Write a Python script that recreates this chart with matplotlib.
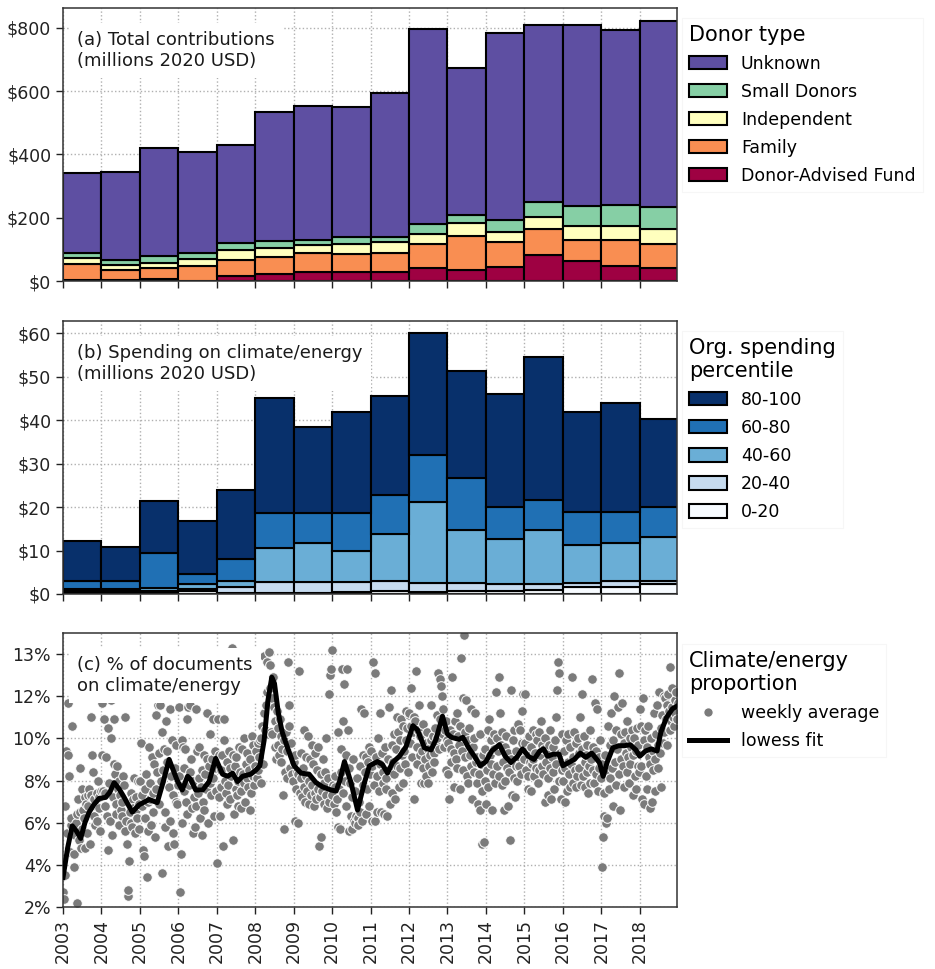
import numpy as np
import matplotlib
matplotlib.use("Agg")
import matplotlib.pyplot as plt
from matplotlib.lines import Line2D
from matplotlib.patches import Patch

years = list(range(2003, 2019))

# (a) total contributions, millions 2020 USD
donor_labels = ["Donor-Advised Fund", "Family", "Independent", "Small Donors", "Unknown"]
daf = [2, 2, 7, 1, 16, 23, 29, 29, 29, 42, 34, 45, 82, 64, 47, 42]
family = [51, 32, 33, 47, 50, 53, 59, 56, 59, 75, 107, 77, 82, 67, 84, 75]
independent = [21, 16, 18, 23, 33, 27, 26, 32, 34, 31, 41, 34, 37, 43, 43, 49]
small_donors = [13, 16, 22, 19, 21, 22, 15, 21, 18, 32, 27, 38, 50, 62, 66, 67]
unknown = [254, 278, 339, 318, 309, 408, 424, 413, 453, 617, 466, 590, 558, 572, 555, 588]

# (b) spending on climate/energy by org. spending percentile
pctl_labels = ["0-20", "20-40", "40-60", "60-80", "80-100"]
p0_20 = [0.3, 0.3, 0.4, 0.6, 0.3, 0.3, 0.3, 0.4, 0.6, 0.4, 0.6, 0.8, 1.0, 1.5, 1.7, 2.2]
p20_40 = [0.3, 0.3, 0.4, 0.6, 1.2, 2.55, 2.4, 2.3, 2.5, 2.1, 1.9, 1.4, 1.2, 1.0, 1.2, 0.7]
p40_60 = [0.6, 0.6, 0.6, 1.0, 1.6, 7.75, 9.1, 7.3, 10.8, 18.6, 12.3, 10.5, 12.5, 8.7, 8.8, 10.1]
p60_80 = [1.7, 1.7, 8.1, 2.4, 5.0, 8.1, 6.9, 8.7, 8.8, 10.9, 11.8, 7.2, 6.9, 7.7, 7.2, 7.1]
p80_100 = [9.4, 7.9, 11.9, 12.2, 15.8, 26.4, 19.7, 23.1, 22.9, 28.0, 24.7, 26.0, 33.0, 22.9, 25.0, 20.2]

# (c) weekly share of documents on climate/energy (%)
wk_2003 = [2.7, 2.4, 3.5, 6.8, 9.4, 5.5, 11.7, 9.2, 8.2, 4.6, 5.9, 6.2, 10.6, 5.6, 4.5, 3.9, 5.4, 6.0, 2.2, 6.4,
           7.1, 5.2, 8.6, 6.5, 4.8, 5.7, 7.6, 6.6, 6.2, 7.2, 4.8, 6.9, 5.5, 7.3, 6.8, 7.6, 5.0, 7.3, 11.0, 9.2,
           8.4, 6.3, 7.1, 5.9, 6.8, 7.4, 6.1, 8.0, 6.7, 7.2, 5.6, 7.5]
wk_2004 = [11.7, 9.2, 7.5, 10.9, 6.8, 7.4, 9.1, 6.3, 4.7, 10.5, 7.9, 6.1, 10.0, 11.8, 5.4, 7.2, 10.9, 8.8, 8.3, 6.4,
           6.9, 8.7, 7.6, 8.0, 5.9, 7.3, 6.6, 7.0, 6.3, 8.2, 7.8, 5.6, 11.0, 6.1, 5.0, 2.5, 2.8, 4.2, 6.5, 7.4,
           6.0, 5.8, 7.1, 6.7, 8.1, 5.5, 6.6, 7.2, 6.2, 8.0, 5.7, 6.9]
wk_2005 = [8.0, 9.8, 6.8, 7.3, 4.7, 4.4, 7.6, 6.2, 8.3, 3.4, 7.0, 5.6, 9.6, 7.1, 7.9, 5.9, 9.1, 6.5, 7.4, 8.8,
           5.3, 11.1, 7.6, 8.4, 11.6, 6.9, 9.3, 11.6, 8.0, 3.6, 10.3, 8.5, 9.5, 6.5, 5.8, 10.8, 8.9, 9.4, 4.9, 7.7,
           11.4, 6.1, 8.2, 9.9, 5.5, 7.3, 5.0, 8.6, 7.0, 9.7, 6.9, 7.8]
wk_2006 = [11.5, 8.2, 2.7, 4.5, 6.0, 9.9, 9.6, 7.5, 8.6, 9.5, 7.0, 10.9, 6.4, 11.5, 7.8, 8.4, 11.6, 9.0, 6.7, 5.5,
           8.0, 7.2, 5.8, 11.4, 6.8, 9.4, 7.4, 8.1, 9.6, 6.2, 7.7, 5.4, 8.5, 7.0, 6.6, 9.2, 8.3, 7.6, 11.2, 9.0,
           6.0, 8.7, 7.9, 10.2, 7.3, 9.0, 10.9, 8.1, 6.3, 9.4, 7.5, 8.6]
wk_2007 = [4.1, 10.9, 9.2, 7.2, 6.3, 8.5, 7.7, 9.2, 4.9, 10.9, 9.9, 8.0, 7.4, 8.9, 6.9, 7.8, 9.4, 7.1, 8.6, 8.2,
           14.3, 9.2, 5.2, 6.4, 8.7, 7.6, 9.1, 7.3, 8.0, 6.8, 9.6, 8.4, 7.5, 6.7, 9.5, 8.3, 7.9, 10.0, 7.0, 8.8,
           8.1, 9.3, 7.7, 8.5, 6.6, 9.0, 7.4, 10.1, 8.2, 9.7, 7.8, 8.4]
wk_2008 = [8.7, 9.4, 8.1, 9.8, 8.5, 9.1, 9.9, 7.9, 10.0, 10.6, 8.8, 11.2, 13.9, 10.4, 11.6, 13.6, 12.2, 10.2, 14.1, 12.4,
           13.5, 10.3, 11.9, 10.2, 12.9, 11.5, 9.6, 10.8, 9.0, 11.3, 10.5, 9.7, 9.2, 10.9, 8.9, 10.1, 9.5, 7.3, 9.9, 5.7,
           8.4, 10.3, 9.4, 8.1, 13.6, 11.6, 10.6, 8.6, 9.8, 8.3, 9.2, 8.0]
wk_2009 = [8.9, 6.1, 9.2, 7.6, 8.4, 6.0, 8.3, 13.2, 7.4, 8.1, 9.3, 7.2, 8.6, 7.7, 10.4, 7.0, 8.2, 9.1, 7.5, 10.1,
           6.9, 8.0, 9.0, 7.3, 9.7, 7.8, 8.8, 6.8, 7.4, 9.3, 7.1, 8.5, 7.6, 9.6, 4.9, 7.2, 8.3, 5.3, 7.5, 9.0,
           6.9, 7.9, 8.4, 10.0, 7.3, 6.7, 8.1, 7.0, 12.1, 13.0, 13.3, 14.2]
wk_2010 = [7.3, 7.8, 6.9, 7.7, 8.2, 6.5, 7.1, 10.3, 5.8, 7.6, 5.7, 9.5, 8.4, 13.3, 7.4, 10.8, 12.6, 8.0, 9.2, 6.8,
           13.3, 10.4, 8.6, 5.6, 7.9, 6.3, 5.7, 7.2, 9.0, 6.1, 6.0, 7.5, 6.3, 8.1, 6.2, 5.9, 7.0, 8.7, 6.5, 11.4,
           6.1, 7.8, 9.2, 11.2, 8.4, 6.4, 9.1, 7.6, 8.9, 6.8, 9.6, 8.3]
wk_2011 = [9.4, 6.1, 8.7, 13.6, 7.8, 6.1, 13.1, 9.1, 8.2, 6.5, 10.0, 7.5, 11.2, 8.8, 6.5, 9.3, 7.9, 8.4, 6.4, 9.6,
           8.1, 7.6, 6.3, 9.0, 11.5, 8.5, 6.9, 12.3, 9.7, 7.4, 8.9, 10.2, 8.3, 7.1, 9.5, 11.0, 8.7, 10.3, 7.7, 9.9,
           8.6, 10.9, 9.2, 7.9, 10.6, 9.4, 8.8, 11.3, 9.9, 10.5, 8.4, 11.1]
wk_2012 = [11.2, 9.8, 10.6, 12.4, 9.1, 10.3, 7.1, 11.0, 10.8, 13.2, 9.6, 8.8, 10.4, 11.6, 9.2, 10.1, 7.9, 9.4, 8.6, 10.7,
           7.9, 9.0, 8.2, 9.8, 10.3, 9.5, 7.9, 8.7, 9.2, 11.6, 9.9, 8.4, 10.1, 9.3, 8.9, 10.5, 9.7, 11.1, 10.0, 13.1,
           9.5, 12.8, 10.9, 12.5, 12.0, 10.2, 11.4, 9.6, 10.4, 8.5, 10.8, 9.9]
wk_2013 = [8.3, 9.8, 7.1, 10.4, 9.5, 8.9, 12.9, 10.2, 9.3, 7.7, 10.8, 9.0, 11.2, 8.6, 10.1, 9.7, 7.6, 10.6, 13.8, 9.4,
           11.9, 8.5, 14.9, 10.3, 9.1, 11.8, 8.2, 9.9, 7.9, 10.5, 9.2, 8.7, 11.4, 7.1, 9.6, 8.4, 10.0, 11.2, 8.9, 7.9,
           9.1, 6.9, 8.3, 10.2, 6.6, 8.8, 7.5, 5.0, 9.2, 5.1, 8.0, 9.5]
wk_2014 = [6.9, 8.5, 10.4, 7.7, 10.9, 9.2, 8.8, 9.9, 6.6, 8.3, 10.2, 9.5, 7.9, 12.2, 8.7, 10.0, 9.4, 12.9, 8.2, 11.2,
           9.7, 7.8, 10.3, 8.9, 6.6, 9.6, 8.0, 10.1, 8.6, 9.3, 6.8, 8.4, 5.2, 9.0, 12.3, 7.3, 9.9, 8.1, 10.4, 7.2,
           9.4, 8.7, 8.0, 10.7, 9.1, 8.7, 10.4, 8.3, 11.3, 9.8, 12.1, 9.0]
wk_2015 = [9.8, 12.1, 8.5, 9.4, 8.2, 7.6, 10.1, 8.9, 9.6, 7.5, 8.8, 10.4, 9.0, 8.2, 9.3, 10.2, 8.6, 9.9, 7.9, 8.5,
           10.3, 9.2, 10.8, 8.7, 9.7, 8.3, 9.5, 10.0, 7.0, 8.9, 9.4, 7.3, 8.1, 9.7, 8.6, 10.4, 7.1, 9.1, 8.4, 9.6,
           7.6, 9.9, 11.0, 8.8, 12.3, 13.6, 13.1, 8.0, 9.3, 7.1, 10.2, 8.5]
wk_2016 = [8.0, 9.4, 7.0, 8.6, 9.9, 7.5, 8.9, 10.2, 8.3, 7.7, 9.6, 8.8, 12.9, 7.9, 9.1, 10.3, 8.5, 9.8, 7.7, 8.2,
           10.0, 9.3, 8.6, 11.0, 7.8, 12.1, 9.5, 8.2, 10.1, 8.9, 7.7, 9.2, 8.4, 9.7, 7.4, 8.7, 10.4, 7.9, 9.0, 12.8,
           8.5, 9.6, 7.9, 11.7, 8.3, 9.4, 11.4, 7.5, 9.1, 8.6, 9.9, 8.1]
wk_2017 = [3.9, 8.8, 5.3, 7.4, 6.3, 9.2, 6.0, 8.5, 6.2, 10.6, 7.6, 8.1, 9.7, 11.2, 8.6, 6.8, 9.9, 12.0, 8.9, 10.4,
           7.8, 9.5, 11.5, 8.3, 13.1, 6.6, 10.2, 9.0, 11.7, 8.7, 9.8, 7.7, 10.3, 9.3, 8.4, 10.8, 9.1, 7.9, 10.0, 8.8,
           9.6, 10.4, 7.3, 9.2, 10.0, 8.2, 9.4, 7.6, 10.5, 8.7, 9.7, 8.4]
wk_2018 = [11.4, 8.7, 10.6, 7.1, 11.9, 9.9, 6.9, 10.4, 8.2, 9.6, 7.6, 10.6, 9.1, 6.7, 8.8, 10.0, 7.0, 9.4, 8.5, 11.2,
           9.0, 7.5, 10.2, 11.6, 8.6, 9.7, 12.2, 9.3, 7.7, 10.5, 11.1, 9.8, 12.0, 10.3, 11.9, 10.9, 11.6, 9.7, 12.1, 11.3,
           10.4, 13.4, 10.8, 11.5, 12.4, 11.0, 10.6, 11.8, 11.2, 12.2, 10.9, 11.7]

lowess_year = [2003.0, 2003.12, 2003.24, 2003.35, 2003.46, 2003.57, 2003.68, 2003.8, 2003.94, 2004.11,
               2004.22, 2004.33, 2004.46, 2004.59, 2004.8, 2004.98, 2005.24, 2005.45, 2005.6, 2005.76,
               2005.97, 2006.1, 2006.24, 2006.32, 2006.45, 2006.63, 2006.8, 2006.97, 2007.15, 2007.28,
               2007.41, 2007.54, 2007.67, 2007.88, 2008.02, 2008.12, 2008.23, 2008.33, 2008.43, 2008.5,
               2008.6, 2008.7, 2008.85, 2009.01, 2009.19, 2009.4, 2009.58, 2009.75, 2009.97, 2010.1,
               2010.2, 2010.32, 2010.49, 2010.66, 2010.84, 2010.97, 2011.18, 2011.31, 2011.44, 2011.57,
               2011.75, 2011.92, 2012.1, 2012.22, 2012.4, 2012.57, 2012.7, 2012.87, 2013.0, 2013.1,
               2013.3, 2013.4, 2013.55, 2013.7, 2013.85, 2014.0, 2014.15, 2014.35, 2014.5, 2014.65,
               2014.8, 2014.95, 2015.1, 2015.25, 2015.4, 2015.5, 2015.6, 2015.75, 2015.9, 2016.0,
               2016.15, 2016.3, 2016.45, 2016.6, 2016.75, 2016.95, 2017.05, 2017.15, 2017.3, 2017.45,
               2017.6, 2017.75, 2017.9, 2018.0, 2018.15, 2018.3, 2018.45, 2018.55, 2018.7, 2018.85, 2018.99]
lowess_pct = [3.4, 4.8, 5.85, 5.6, 5.25, 6.0, 6.5, 6.85, 7.15, 7.2,
              7.45, 7.9, 7.6, 7.2, 6.5, 6.85, 7.1, 6.95, 7.9, 9.0,
              8.0, 7.55, 8.2, 8.05, 7.55, 7.55, 7.95, 9.05, 8.3, 8.2,
              8.35, 7.95, 8.2, 8.3, 8.5, 8.7, 9.9, 11.8, 12.9, 12.6,
              11.2, 10.3, 9.5, 8.7, 8.35, 8.3, 7.9, 7.7, 7.55, 7.5,
              8.0, 8.9, 7.9, 6.6, 7.9, 8.7, 8.9, 8.75, 8.35, 8.85,
              9.15, 9.6, 10.6, 10.4, 9.55, 9.45, 9.95, 11.05, 10.2, 10.05,
              9.95, 10.05, 9.55, 9.15, 8.7, 8.9, 9.4, 9.7, 9.15, 8.85,
              9.1, 9.5, 9.15, 9.0, 9.4, 9.5, 9.15, 9.25, 9.25, 8.7,
              8.85, 9.0, 9.3, 9.1, 9.3, 8.85, 8.2, 8.85, 9.55, 9.65,
              9.65, 9.7, 9.45, 9.15, 9.4, 9.5, 9.4, 10.3, 11.0, 11.4, 11.55]

pct_ticks = [2, 4, 6, 8, 10, 12, 14]
pct_ticklabels = ["2%", "4%", "6%", "8%", "10%", "12%", "13%"]

FS = 12.5
plt.rcParams["font.family"] = "DejaVu Sans"
plt.rcParams["font.size"] = FS

fig = plt.figure(figsize=(9.35, 9.69), dpi=100)
ax1 = fig.add_axes([0.0674, 0.7100, 0.6567, 0.2817])
ax2 = fig.add_axes([0.0674, 0.3870, 0.6567, 0.2817])
ax3 = fig.add_axes([0.0674, 0.0640, 0.6567, 0.2828])

spectral = plt.cm.Spectral(np.linspace(0, 1, 5))
blues = plt.cm.Blues(np.linspace(0, 1, 5))


def stacked(ax, layers, colors):
    bottom = np.zeros(len(years))
    for vals, c in zip(layers, colors):
        ax.bar(years, vals, width=1.0, align="edge", bottom=bottom, color=c,
               edgecolor="black", linewidth=1.5, zorder=2)
        bottom += np.array(vals)


def style(ax):
    ax.set_xlim(2003, 2018.97)
    ax.set_xticks(years)
    ax.grid(True, linestyle=":", color="#b0b0b0", linewidth=1.0)
    ax.set_axisbelow(True)
    ax.tick_params(labelsize=FS, length=5, width=1, colors="#222222")
    for s in ax.spines.values():
        s.set_color("#333333")
        s.set_linewidth(1.1)


def panel_text(ax, txt):
    ax.text(0.023, 0.915, txt, transform=ax.transAxes, ha="left", va="top", fontsize=13,
            color="#1a1a1a", zorder=6,
            bbox=dict(facecolor="white", edgecolor="none", pad=6))


def side_legend(ax, handles, labels, title, y):
    leg = ax.legend(handles, labels, title=title, loc="upper left", bbox_to_anchor=(1.008, y),
                    borderaxespad=0, fontsize=FS, title_fontsize=15, alignment="left",
                    frameon=True, fancybox=False, edgecolor="#f6f6f6", framealpha=1,
                    labelspacing=0.58, handlelength=2.2, handleheight=0.8)
    leg.get_frame().set_linewidth(0.8)
    return leg


# (a)
stacked(ax1, [daf, family, independent, small_donors, unknown], spectral)
style(ax1)
ax1.set_ylim(0, 863)
ax1.set_yticks([0, 200, 400, 600, 800])
ax1.set_yticklabels([f"${v}" for v in [0, 200, 400, 600, 800]])
ax1.set_xticklabels([])
panel_text(ax1, "(a) Total contributions\n(millions 2020 USD)")
h = [Patch(facecolor=c, edgecolor="black", linewidth=1.5) for c in spectral][::-1]
side_legend(ax1, h, donor_labels[::-1], "Donor type", 0.965)

# (b)
stacked(ax2, [p0_20, p20_40, p40_60, p60_80, p80_100], blues)
style(ax2)
ax2.set_ylim(0, 62.8)
ax2.set_yticks([0, 10, 20, 30, 40, 50, 60])
ax2.set_yticklabels([f"${v}" for v in [0, 10, 20, 30, 40, 50, 60]])
ax2.set_xticklabels([])
panel_text(ax2, "(b) Spending on climate/energy\n(millions 2020 USD)")
h = [Patch(facecolor=c, edgecolor="black", linewidth=1.5) for c in blues][::-1]
side_legend(ax2, h, pctl_labels[::-1], "Org. spending\npercentile", 0.965)

# (c)
weekly = [wk_2003, wk_2004, wk_2005, wk_2006, wk_2007, wk_2008, wk_2009, wk_2010,
          wk_2011, wk_2012, wk_2013, wk_2014, wk_2015, wk_2016, wk_2017, wk_2018]
wx, wy = [], []
for yr, vals in zip(years, weekly):
    for i, v in enumerate(vals):
        wx.append(yr + (i + 0.3) / len(vals))
        wy.append(v)
ax3.scatter(wx, wy, s=48, color="#7b7b7b", edgecolor="white", linewidth=0.7, zorder=2)
ax3.plot(lowess_year, lowess_pct, color="black", linewidth=3.6, zorder=3,
         solid_joinstyle="round")
style(ax3)
ax3.set_ylim(2, 15)
ax3.set_yticks(pct_ticks)
ax3.set_yticklabels(pct_ticklabels)
ax3.set_xticklabels([str(y) for y in years], rotation=90)
panel_text(ax3, "(c) % of documents\non climate/energy")
h = [Line2D([], [], marker="o", linestyle="none", markersize=7, markerfacecolor="#7b7b7b",
            markeredgecolor="white"),
     Line2D([], [], color="black", linewidth=3.6)]
side_legend(ax3, h, ["weekly average", "lowess fit"], "Climate/energy\nproportion", 0.96)

fig.savefig("out.png", dpi=100)
